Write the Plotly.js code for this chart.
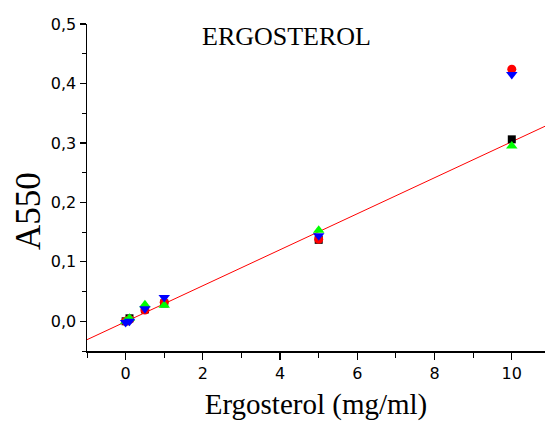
<!DOCTYPE html>
<html>
<head>
<meta charset="utf-8">
<script src="https://cdn.plot.ly/plotly-3.0.1.min.js"></script>
<style>html,body{margin:0;padding:0;background:#fff}#plot{width:545px;height:425px}</style>
</head>
<body>
<div id="plot"></div>
<script>
var xValues = [0, 0.1, 0.5, 1, 5, 10];
var blackSquares = [0.000, 0.005, 0.020, 0.030, 0.137, 0.306];
var redCircles = [0.000, 0.003, 0.019, 0.032, 0.138, 0.424];
var greenUp = [0.000, 0.005, 0.028, 0.027, 0.153, 0.295];
var blueDown = [-0.002, 0.000, 0.021, 0.040, 0.144, 0.415];
var fitX = [-1, 10.86];
var fitY = [-0.031, 0.328];
var xTickVals = [0, 2, 4, 6, 8, 10];
var yTickVals = [0, 0.1, 0.2, 0.3, 0.4, 0.5];

var serif = 'Liberation Serif, Times New Roman, serif';
function tickFont() { return {family: 'DejaVu Sans, Arial, sans-serif', size: 16, color: '#000'}; }

var traces = [
  {x: fitX, y: fitY, mode: 'lines', line: {color: '#ff0000', width: 1}, hoverinfo: 'skip'},
  {x: xValues, y: blackSquares, mode: 'markers', marker: {symbol: 'square', color: '#000000', size: 8}},
  {x: xValues, y: redCircles, mode: 'markers', marker: {symbol: 'circle', color: '#ff0000', size: 9}},
  {x: xValues, y: greenUp, mode: 'markers', marker: {symbol: 'triangle-up', color: '#00ff00', size: 10}},
  {x: xValues, y: blueDown, mode: 'markers', marker: {symbol: 'triangle-down', color: '#0000ff', size: 10}}
];

var L = 87, T = 24, W = 458, H = 327;
var layout = {
  width: 545, height: 425,
  margin: {l: L, r: 0, t: T, b: 74},
  paper_bgcolor: '#fff', plot_bgcolor: '#fff',
  showlegend: false,
  separators: ',.',
  xaxis: {
    range: [-1, 10.86], showgrid: false, zeroline: false,
    showline: true, linecolor: '#000', linewidth: 1.5,
    ticks: 'outside', ticklen: 7, tickwidth: 1.2, tickcolor: '#000',
    tickvals: xTickVals, tickfont: tickFont(),
    minor: {dtick: 1, tick0: -1, ticks: 'outside', ticklen: 5, tickcolor: '#000', tickwidth: 1},
    title: {text: 'Ergosterol (mg/ml)', font: {family: serif, size: 29, color: '#000'}, standoff: 12}
  },
  yaxis: {
    range: [-0.05, 0.5], showgrid: false, zeroline: false,
    showline: true, linecolor: '#000', linewidth: 1.5,
    ticks: 'outside', ticklen: 6, tickwidth: 1.2, tickcolor: '#000',
    tickvals: yTickVals, tickformat: '.1f', tickfont: tickFont(),
    minor: {dtick: 0.05, tick0: 0, ticks: 'outside', ticklen: 4, tickcolor: '#000', tickwidth: 1}
  },
  annotations: [{
    text: 'ERGOSTEROL', xref: 'paper', yref: 'paper',
    x: (286 - L) / W, y: 1 - (36 - T) / H, xanchor: 'center', yanchor: 'middle',
    showarrow: false, font: {family: serif, size: 26, color: '#000'}
  }, {
    text: 'A550', xref: 'paper', yref: 'paper', textangle: -90,
    x: (28 - L) / W, y: 1 - (211 - T) / H, xanchor: 'center', yanchor: 'middle',
    showarrow: false, font: {family: serif, size: 35, color: '#000'}
  }]
};

Plotly.newPlot('plot', traces, layout, {displayModeBar: false, staticPlot: true});
</script>
</body>
</html>
